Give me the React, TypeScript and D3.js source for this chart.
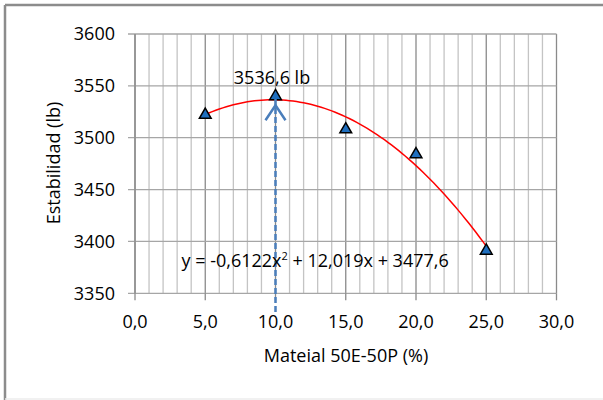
import React from "react";
import * as d3 from "d3";

const xValues = [5, 10, 15, 20, 25];
const yValues = [3522, 3540, 3508, 3484, 3391];
const trendCoefficients = [-0.6122, 12.019, 3477.6]; // a, b, c
const xTicks = [0, 5, 10, 15, 20, 25, 30];
const yTicks = [3350, 3400, 3450, 3500, 3550, 3600];
const peakX = 10;
const peakLabel = "3536,6 lb";
const equationLabel = ["y = -0,6122x", "2", " + 12,019x + 3477,6"];
const xTitle = "Mateial 50E-50P (%)";
const yTitle = "Estabilidad (lb)";

const W = 603, H = 400;
const M = { left: 135, right: 556.5, top: 34, bottom: 293.3 };
const FONT = "'Open Sans', 'Liberation Sans', sans-serif";
const FS = 18;

export default function App() {
  const x = d3.scaleLinear().domain([0, 30]).range([M.left, M.right]);
  const y = d3.scaleLinear().domain([3350, 3600]).range([M.bottom, M.top]);
  const minor = d3.range(0, 31, 1);
  const [a, b, c] = trendCoefficients;
  const trendXs = d3.range(xValues[0], xValues[xValues.length - 1] + 0.001, 0.25);
  const line = d3.line<number>().x((d) => x(d)).y((d) => y(a * d * d + b * d + c));
  const tri = d3.symbol().type(d3.symbolTriangle).size(60)();
  const fmt = (v: number) => v.toFixed(1).replace(".", ",");
  const ax = x(peakX);
  const arrowTop = y(yValues[1]) + 2;

  return (
    <svg width={W} height={H} style={{ position: "absolute", left: 0, top: 0, background: "#fff" }} fontFamily={FONT}>
      <line x1={5} x2={W} y1={5} y2={5} stroke="#8c8c8c" strokeWidth={2.5} />
      <line x1={5} x2={5} y1={5} y2={H} stroke="#8c8c8c" strokeWidth={2.5} />
      <line x1={5} x2={W} y1={399} y2={399} stroke="#ececec" strokeWidth={1.5} />
      {minor.map((m) => (
        <line key={"v" + m} x1={x(m)} x2={x(m)} y1={M.top} y2={M.bottom}
          stroke={m % 5 === 0 ? "#8a8a8a" : "#c4c4c4"} strokeWidth={1.3} />
      ))}
      {yTicks.map((t) => (
        <line key={"h" + t} x1={M.left - 7} x2={M.right} y1={y(t)} y2={y(t)} stroke="#a6a6a6" strokeWidth={1.3} />
      ))}
      <line x1={M.left} x2={M.left} y1={M.top} y2={M.bottom} stroke="#8a8a8a" strokeWidth={1.3} />
      {xTicks.map((t) => (
        <line key={"xt" + t} x1={x(t)} x2={x(t)} y1={M.bottom} y2={M.bottom + 7} stroke="#8a8a8a" strokeWidth={1.3} />
      ))}
      {yTicks.map((t) => (
        <text key={"yl" + t} x={M.left - 20} y={y(t)} dy="0.35em" textAnchor="end" fontSize={FS} fill="#000">{t}</text>
      ))}
      {xTicks.map((t) => (
        <text key={"xl" + t} x={x(t)} y={M.bottom + 28} dy="0.35em" textAnchor="middle" fontSize={FS} fill="#000">{fmt(t)}</text>
      ))}
      <text x={346} y={356} dy="0.35em" textAnchor="middle" fontSize={FS}>{xTitle}</text>
      <text transform={`translate(54,163) rotate(-90)`} dy="0.35em" textAnchor="middle" fontSize={FS}>{yTitle}</text>
      <path d={line(trendXs) || ""} fill="none" stroke="#ff0000" strokeWidth={1.5} />
      {xValues.map((v, i) => (
        <path key={"p" + i} d={tri || ""} transform={`translate(${x(v)},${y(yValues[i])})`} fill="#1f6fbf" stroke="#000" strokeWidth={1.5} />
      ))}
      <line x1={ax} x2={ax} y1={312} y2={arrowTop} stroke="#4a7ebb" strokeWidth={2.5} strokeDasharray="6,3" />
      <path d={`M${ax - 10},${arrowTop + 22} L${ax},${arrowTop + 7} L${ax + 10},${arrowTop + 22}`} fill="none" stroke="#4a7ebb" strokeWidth={2.5} />
      <text x={272} y={84} textAnchor="middle" fontSize={FS}>{peakLabel}</text>
      <text x={181.5} y={267} fontSize={FS}>
        {equationLabel[0]}
        <tspan dy={-7} fontSize={11}>{equationLabel[1]}</tspan>
        <tspan dy={7}>{equationLabel[2]}</tspan>
      </text>
    </svg>
  );
}
